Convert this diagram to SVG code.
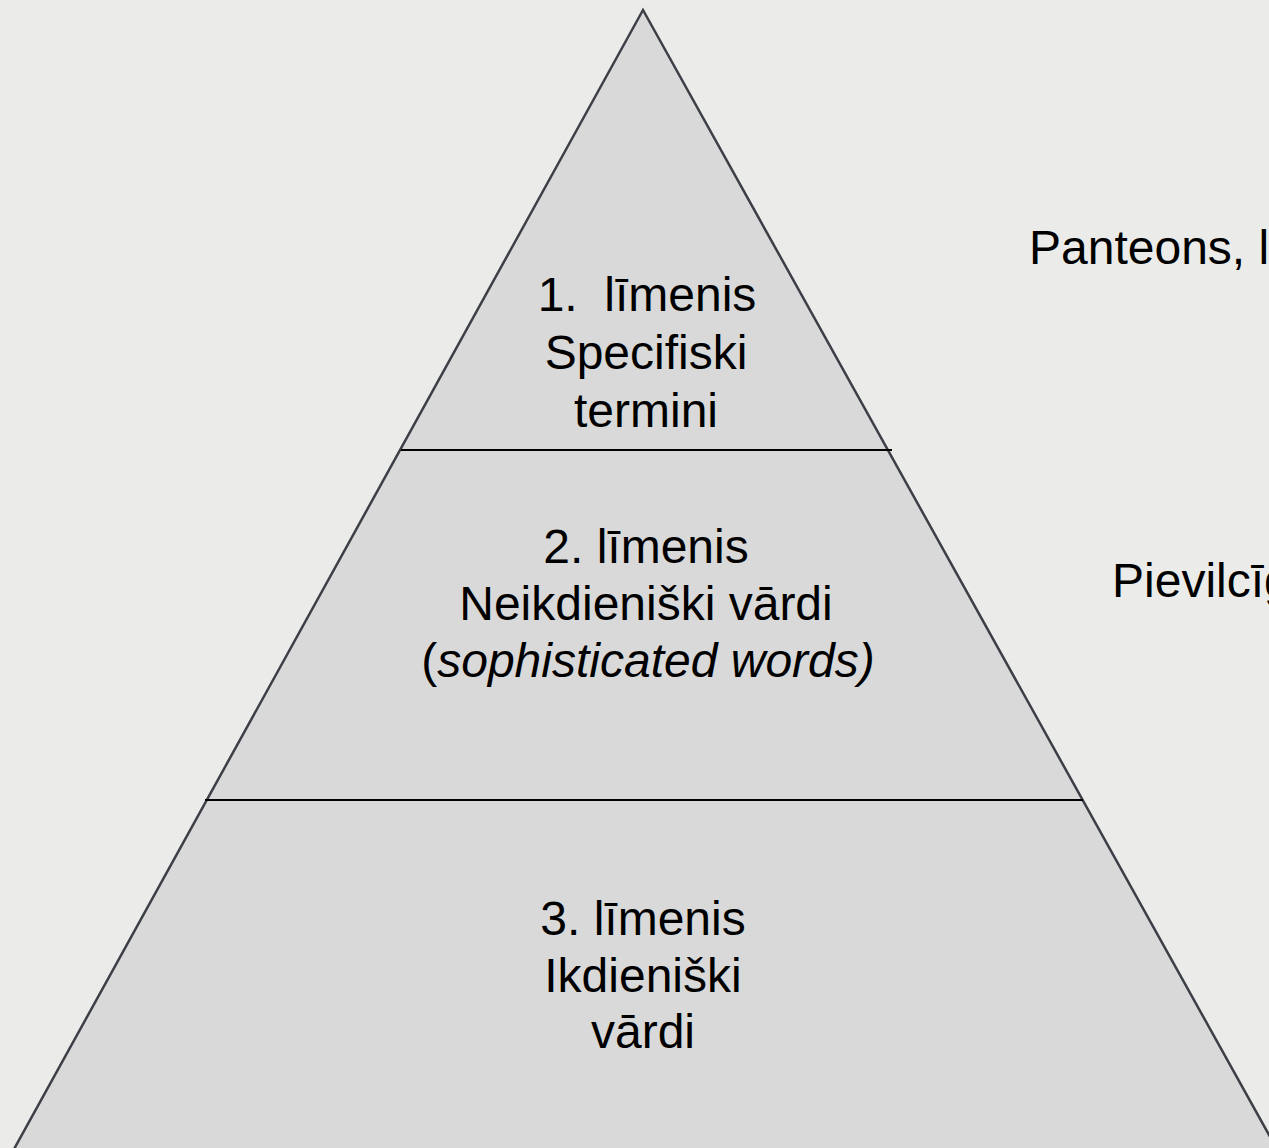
<svg xmlns="http://www.w3.org/2000/svg" width="1269" height="1148" viewBox="0 0 1269 1148">
<style>
.t{font-family:"Liberation Sans",Arial,sans-serif;font-size:48px;fill:#000;}
.c{text-anchor:middle;}
.i{font-style:italic;}
</style>
<rect width="1269" height="1148" fill="#EBECE9"/>
<g id="pyramid">
<polygon points="643,10 8,1160 1283,1160" fill="#D9D9D9" stroke="#3C4046" stroke-width="2.5"/>
</g>
<g id="connectors">
<line x1="401" y1="450" x2="892" y2="450" stroke="#000" stroke-width="2"/>
<line x1="205" y1="800" x2="1083" y2="800" stroke="#000" stroke-width="2"/>
</g>
<g id="level1">
<text class="t c" x="647" y="311" xml:space="preserve">1.  līmenis</text>
<text class="t c" x="646" y="369">Specifiski</text>
<text class="t c" x="646" y="427">termini</text>
</g>
<g id="level2">
<text class="t c" x="646" y="563">2. līmenis</text>
<text class="t c" x="646" y="620">Neikdieniški vārdi</text>
<text class="t c" x="648" y="677">(<tspan class="i">sophisticated words)</tspan></text>
</g>
<g id="level3">
<text class="t c" x="643" y="935">3. līmenis</text>
<text class="t c" x="643" y="992">Ikdieniški</text>
<text class="t c" x="643" y="1048">vārdi</text>
</g>
<g id="label1">
<text class="t" x="1029" y="264">Panteons, l</text>
</g>
<g id="label2">
<text class="t" x="1112" y="597">Pievilcīg</text>
</g>
</svg>
